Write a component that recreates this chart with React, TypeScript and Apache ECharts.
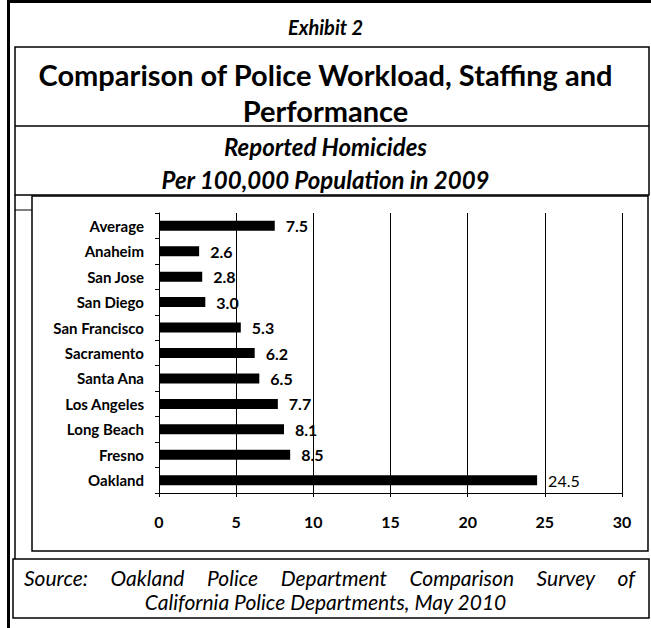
import React, { useEffect, useRef } from "react";
import * as echarts from "echarts";

// Homicides per 100,000 population, 2009
const cities = [
  "Average",
  "Anaheim",
  "San Jose",
  "San Diego",
  "San Francisco",
  "Sacramento",
  "Santa Ana",
  "Los Angeles",
  "Long Beach",
  "Fresno",
  "Oakland",
];
const rates = [7.5, 2.6, 2.8, 3.0, 5.3, 6.2, 6.5, 7.7, 8.1, 8.5, 24.5];

const exhibitLabel = "Exhibit 2";
const titleLines = ["Comparison of Police Workload, Staffing and", "Performance"];
const subtitleLines = ["Reported Homicides", "Per 100,000 Population in 2009"];
const sourceLines = [
  "Source: Oakland Police Department Comparison Survey of",
  "California Police Departments, May 2010",
];

const FONT = "Lato, 'Open Sans', sans-serif";
const W = 651;
const H = 628;

function measure(text: string, font: string): number {
  const ctx = document.createElement("canvas").getContext("2d");
  if (!ctx) return text.length * 8;
  ctx.font = font;
  return ctx.measureText(text).width;
}

// Spread the words of a line so it fills [x0, x1], like justified text.
function justifiedWords(text: string, x0: number, x1: number, y: number, size: number) {
  const words = text.split(" ");
  const font = `italic ${size}px Lato`;
  const widths = words.map((w) => measure(w, font));
  const total = widths.reduce((a, b) => a + b, 0);
  const gap = (x1 - x0 - total) / (words.length - 1);
  let x = x0;
  return words.map((w, i) => {
    const el = {
      type: "text",
      style: {
        text: w,
        x,
        y,
        align: "left",
        verticalAlign: "middle",
        fontFamily: FONT,
        fontStyle: "italic",
        fontSize: size,
        fill: "#000",
      },
    };
    x += widths[i] + gap;
    return el;
  });
}

const line = (x1: number, y1: number, x2: number, y2: number, w = 1.5) => ({
  type: "line",
  shape: { x1, y1, x2, y2 },
  style: { stroke: "#000", lineWidth: w },
});

const centered = (
  text: string,
  y: number,
  size: number,
  weight: string,
  style: string
) => ({
  type: "text",
  style: {
    text,
    x: W / 2,
    y,
    align: "center",
    verticalAlign: "middle",
    fontFamily: FONT,
    fontSize: size,
    fontWeight: weight,
    fontStyle: style,
    fill: "#000",
  },
});

export default function App() {
  const ref = useRef<HTMLDivElement>(null);

  useEffect(() => {
    if (!ref.current) return;
    const chart = echarts.init(ref.current, undefined, { renderer: "svg" });

    const frame = [
      // heavy outer edges
      line(8.5, 0, 8.5, H, 3),
      line(8, 1.5, W, 1.5, 3),
      // title block
      { type: "rect", shape: { x: 15, y: 47, width: 634, height: 148 }, style: { fill: "none", stroke: "#000", lineWidth: 1.5 } },
      line(15, 126, 649, 126),
      line(15, 195, 15, 559),
      line(15, 210, 32, 210, 1),
      // chart box
      { type: "rect", shape: { x: 32, y: 196, width: 616, height: 355 }, style: { fill: "none", stroke: "#000", lineWidth: 1.5 } },
      // source box
      { type: "rect", shape: { x: 13, y: 559, width: 636, height: 59 }, style: { fill: "none", stroke: "#000", lineWidth: 1.5 } },
    ];

    const texts = [
      centered(exhibitLabel, 27, 20, "bold", "italic"),
      centered(titleLines[0], 74, 29, "bold", "normal"),
      centered(titleLines[1], 110, 29, "bold", "normal"),
      centered(subtitleLines[0], 146, 24, "bold", "italic"),
      centered(subtitleLines[1], 179, 24, "bold", "italic"),
      ...justifiedWords(sourceLines[0], 24, 635, 577, 21),
      centered(sourceLines[1], 601, 21, "normal", "italic"),
    ];

    chart.setOption({
      animation: false,
      backgroundColor: "#fff",
      textStyle: { fontFamily: FONT },
      grid: { left: 159, right: 29, top: 213, bottom: 135, containLabel: false },
      xAxis: {
        type: "value",
        min: 0,
        max: 30,
        interval: 5,
        axisLine: { show: true, lineStyle: { color: "#000", width: 1 } },
        axisTick: { show: true, length: 4, lineStyle: { color: "#000" } },
        splitLine: { show: true, lineStyle: { color: "#000", width: 1 } },
        axisLabel: {
          color: "#000",
          fontFamily: FONT,
          fontWeight: "bold",
          fontSize: 16,
          margin: 20,
        },
      },
      yAxis: {
        type: "category",
        data: cities,
        inverse: true,
        axisLine: { show: true, lineStyle: { color: "#000", width: 1 } },
        axisTick: { show: true, length: 4, lineStyle: { color: "#000" } },
        splitLine: { show: false },
        axisLabel: {
          color: "#000",
          fontFamily: FONT,
          fontWeight: "bold",
          fontSize: 15,
          margin: 15,
        },
      },
      series: [
        {
          type: "bar",
          barWidth: 10,
          itemStyle: { color: "#000" },
          label: {
            show: true,
            position: "right",
            distance: 11,
            color: "#000",
            fontFamily: FONT,
            fontWeight: "bold",
            fontSize: 16,
            formatter: (p: any) => Number(p.value).toFixed(1),
          },
          data: rates.map((v, i) =>
            cities[i] === "Oakland"
              ? { value: v, label: { fontWeight: "normal" } }
              : v
          ),
        },
      ],
      graphic: [...frame, ...texts],
    });

    return () => chart.dispose();
  }, []);

  return (
    <div
      ref={ref}
      style={{ position: "fixed", left: 0, top: 0, width: W, height: H, background: "#fff" }}
    />
  );
}
